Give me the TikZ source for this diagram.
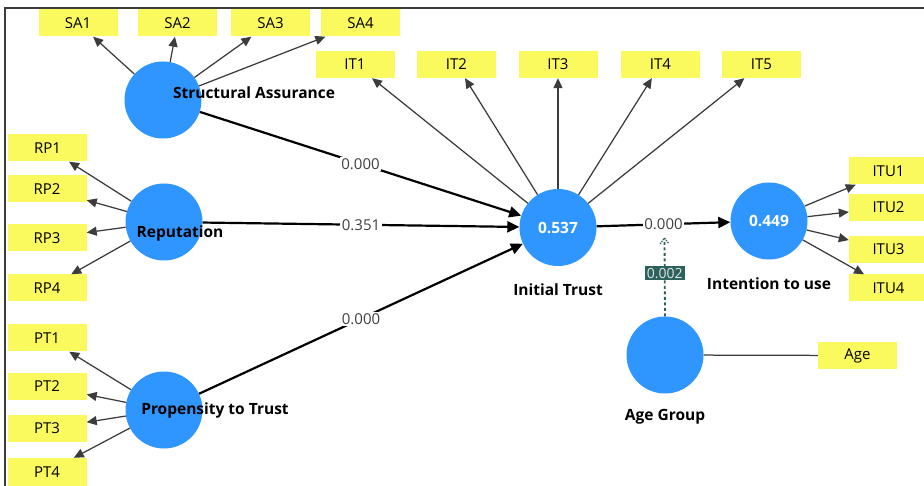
\documentclass[tikz,border=0pt]{standalone}
\usepackage{fontspec}
\setmainfont{Open Sans}
\usetikzlibrary{arrows.meta}
\definecolor{indyellow}{RGB}{250,250,95}
\definecolor{lvblue}{RGB}{48,150,255}
\definecolor{modteal}{RGB}{44,98,92}
\definecolor{framegray}{RGB}{60,60,60}
\definecolor{indline}{RGB}{60,60,60}
\begin{document}
\begin{tikzpicture}[x=1pt,y=-1pt,
  ind/.style={fill=indyellow,minimum width=79pt,minimum height=27pt,inner sep=0pt,font=\fontsize{15}{16}\selectfont},
  lv/.style={circle,fill=lvblue,minimum size=77pt,inner sep=0pt,text=white,font=\bfseries\fontsize{15.5}{16}\selectfont},
  lvname/.style={font=\bfseries\fontsize{15.5}{16}\selectfont,inner sep=0pt},
  loading/.style={draw=indline,line width=1.25pt,-{Triangle[length=10pt,width=9pt]}},
  pathc/.style={draw=black,line width=2.2pt,-{Triangle[length=12pt,width=11pt]}},
  coef/.style={fill=white,inner sep=1.5pt,text=black!75,font=\fontsize{15}{16}\selectfont},
  modc/.style={draw=modteal,line width=1.8pt,dash pattern=on 3pt off 2.5pt},
  modlab/.style={fill=modteal,text=white!90!black,inner sep=2pt,font=\fontsize{14}{15}\selectfont}
]
\clip (0,0) rectangle (924,486);
\fill[white] (0,0) rectangle (924,486);
\draw[framegray,line width=1.8pt] (5,490) -- (5,8) -- (930,8);

% latent variables
\node[lv] (SA) at (163,100) {};
\node[lv] (REP) at (164,222) {};
\node[lv] (PT) at (164,410) {};
\node[lv] (IT) at (558,227.5) {0.537};
\node[lv] (ITU) at (769,221) {0.449};
\node[lv] (AG) at (665,355) {};

% indicators
\node[ind] (SA1) at (78,23) {SA1};
\node[ind] (SA2) at (177.5,23) {SA2};
\node[ind] (SA3) at (270.5,23) {SA3};
\node[ind] (SA4) at (360.5,23) {SA4};
\node[ind] (IT1) at (355,64.5) {IT1};
\node[ind] (IT2) at (456.5,64.5) {IT2};
\node[ind] (IT3) at (558,64.5) {IT3};
\node[ind] (IT4) at (660.5,64.5) {IT4};
\node[ind] (IT5) at (761.5,64.5) {IT5};
\node[ind] (RP1) at (47.5,148) {RP1};
\node[ind] (RP2) at (47,189) {RP2};
\node[ind] (RP3) at (47,238) {RP3};
\node[ind] (RP4) at (47,288) {RP4};
\node[ind] (PT1) at (47,338) {PT1};
\node[ind] (PT2) at (47,386.5) {PT2};
\node[ind] (PT3) at (47,428.5) {PT3};
\node[ind,minimum height=28pt] (PT4) at (47,472) {PT4};
\node[ind] (ITU1) at (888.5,171) {ITU1};
\node[ind] (ITU2) at (888.5,207.5) {ITU2};
\node[ind] (ITU3) at (888.5,249.5) {ITU3};
\node[ind] (ITU4) at (888.5,288) {ITU4};
\node[ind] (AGE) at (857.5,355.5) {Age};

% loadings
\foreach \i in {SA1,SA2,SA3,SA4} \draw[loading] (SA) -- (\i);
\foreach \i in {IT1,IT2,IT3,IT4,IT5} \draw[loading] (IT) -- (\i);
\foreach \i in {RP1,RP2,RP3,RP4} \draw[loading] (REP) -- (\i);
\foreach \i in {PT1,PT2,PT3,PT4} \draw[loading] (PT) -- (\i);
\foreach \i in {ITU1,ITU2,ITU3,ITU4} \draw[loading] (ITU) -- (\i);
\draw[draw=indline,line width=1.25pt] (AG) -- (AGE);

% structural paths
\draw[pathc] (SA) -- node[coef] {0.000} (IT);
\draw[pathc] (REP) -- node[coef] {0.351} (IT);
\draw[pathc] (PT) -- node[coef] {0.000} (IT);
\draw[pathc] (IT) -- node[coef] (itcoef) {0.000} (ITU);

% moderation
\coordinate (modend) at (664.5,238);
\draw[modc] (AG.north) -- node[modlab,pos=0.55] {0.002} (modend);
\draw[modteal,line width=1.1pt,dash pattern=on 1.5pt off 1pt] (660,244) -- (664.5,238) -- (669,244);

% names
\node[lvname] (nSA) at (254,93) {Structural Assurance};
\node[lvname] (nREP) at (180,233) {Reputation};
\node[lvname] (nPT) at (215,410) {Propensity to Trust};
\node[lvname] (nIT) at (558,290) {Initial Trust};
\node[lvname] (nITU) at (769,284) {Intention to use};
\node[lvname] (nAG) at (665,417) {Age Group};
\end{tikzpicture}
\end{document}
